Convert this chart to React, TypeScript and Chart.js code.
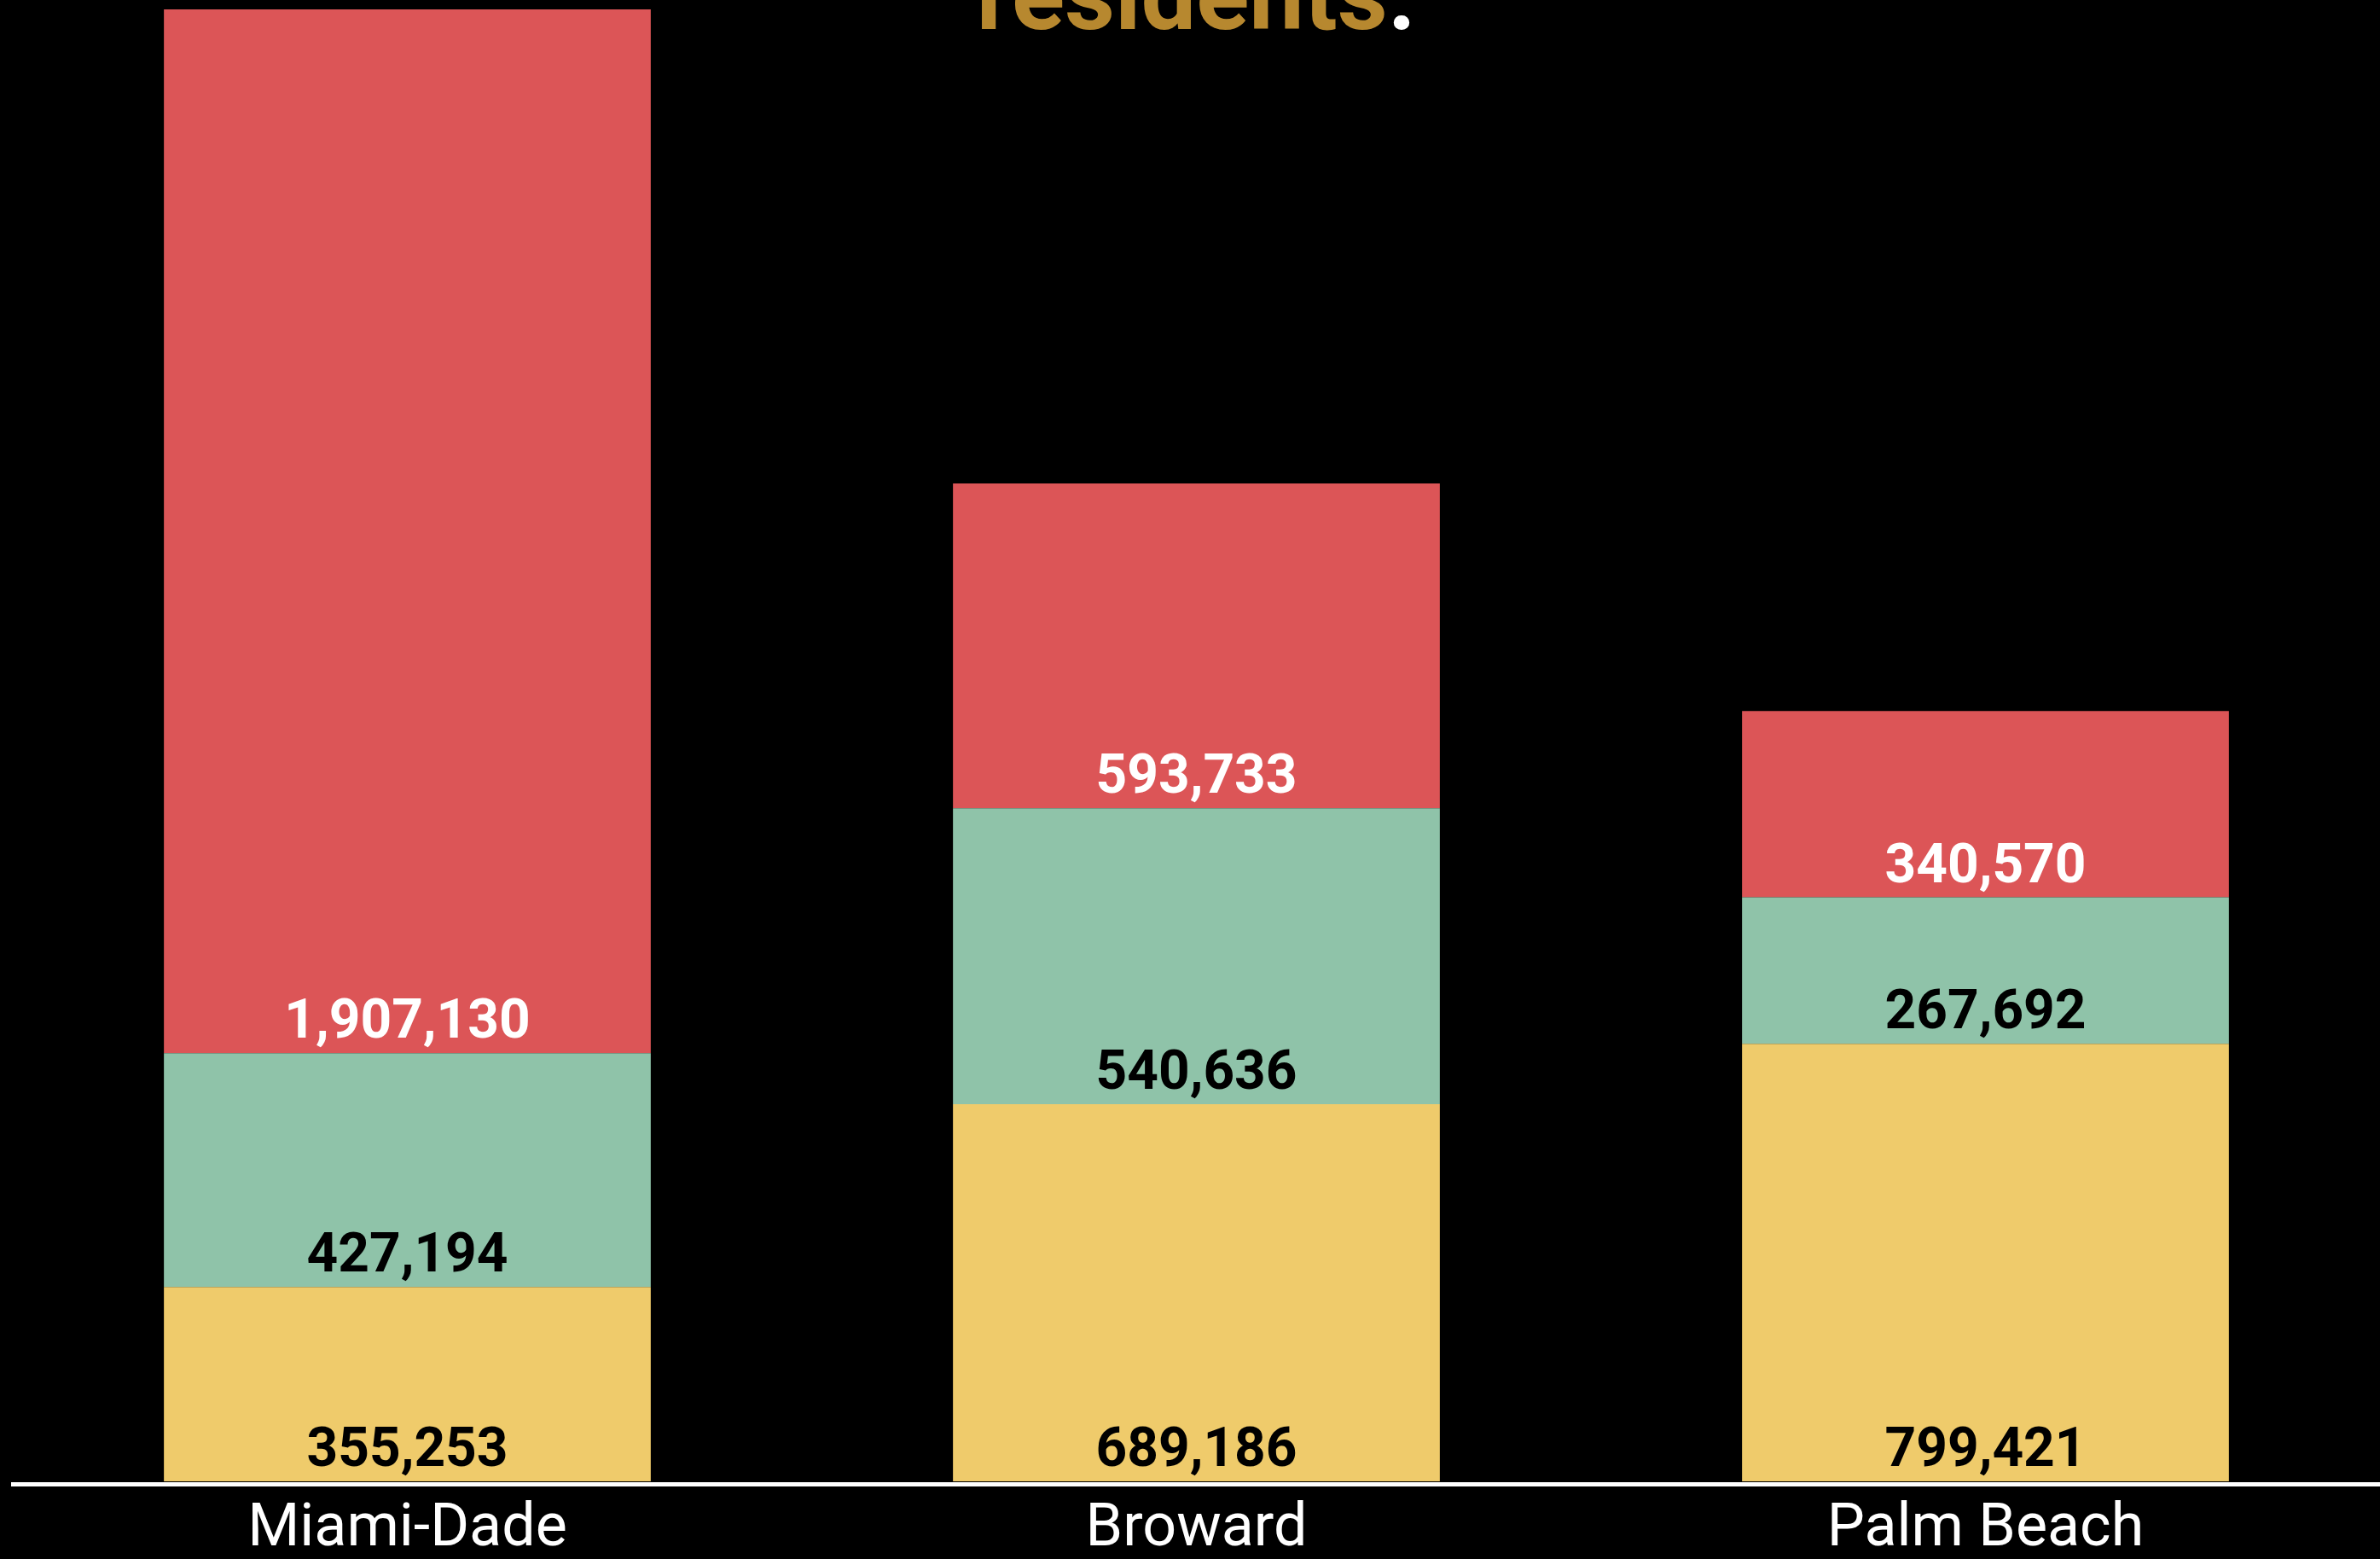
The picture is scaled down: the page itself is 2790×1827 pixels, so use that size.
import React, { useEffect, useRef } from "react";
import { Chart, registerables } from "chart.js";

Chart.register(...registerables);

const counties = ["Miami-Dade", "Broward", "Palm Beach"];
const whiteResidents = [355253, 689186, 799421];
const blackResidents = [427194, 540636, 267692];
const hispanicResidents = [1907130, 593733, 340570];

const seriesNames = ["White", "Black", "Hispanic"];
const seriesColors = ["#EFCB6B", "#8FC3A9", "#DC5557"];
const labelColors = ["#000000", "#000000", "#FFFFFF"];

const titleWord = "residents";
const titleEnd = ".";

const FONT = "Roboto, 'Noto Sans', sans-serif";

const backgroundPlugin = {
  id: "bg",
  beforeDraw(chart: any) {
    const ctx = chart.ctx;
    ctx.save();
    ctx.fillStyle = "#000000";
    ctx.fillRect(0, 0, chart.width, chart.height);
    ctx.restore();
  },
};

const axisLinePlugin = {
  id: "axisLine",
  afterDatasetsDraw(chart: any) {
    const ctx = chart.ctx;
    const y = chart.chartArea.bottom + 3.5;
    ctx.save();
    ctx.strokeStyle = "#FFFFFF";
    ctx.lineWidth = 5;
    ctx.beginPath();
    ctx.moveTo(13, y);
    ctx.lineTo(chart.width, y);
    ctx.stroke();
    ctx.restore();
  },
};

const valueLabelPlugin = {
  id: "valueLabels",
  afterDatasetsDraw(chart: any) {
    const ctx = chart.ctx;
    ctx.save();
    ctx.font = `700 64px ${FONT}`;
    ctx.textAlign = "center";
    ctx.textBaseline = "alphabetic";
    chart.data.datasets.forEach((ds: any, di: number) => {
      const meta = chart.getDatasetMeta(di);
      meta.data.forEach((bar: any, i: number) => {
        const v = ds.data[i] as number;
        ctx.fillStyle = labelColors[di];
        ctx.fillText(v.toLocaleString("en-US"), bar.x, bar.base - 18);
      });
    });
    ctx.restore();
  },
};

const titlePlugin = {
  id: "titleFragment",
  afterDraw(chart: any) {
    const ctx = chart.ctx;
    ctx.save();
    ctx.font = `700 115px ${FONT}`;
    ctx.textBaseline = "alphabetic";
    ctx.textAlign = "left";
    const w1 = ctx.measureText(titleWord).width;
    const w2 = ctx.measureText(titleEnd).width;
    const cx = (chart.chartArea.left + chart.chartArea.right) / 2;
    const x0 = cx - (w1 + w2) / 2;
    ctx.fillStyle = "#B7882F";
    ctx.fillText(titleWord, x0, 34);
    ctx.fillStyle = "#FFFFFF";
    ctx.fillText(titleEnd, x0 + w1, 34);
    ctx.restore();
  },
};

export default function App() {
  const ref = useRef<HTMLCanvasElement | null>(null);

  useEffect(() => {
    document.body.style.margin = "0";
    document.body.style.background = "#000000";
    document.body.style.overflow = "hidden";
    const canvas = ref.current;
    if (!canvas) return;
    const seriesData = [whiteResidents, blackResidents, hispanicResidents];
    const maxTotal = Math.max(
      ...counties.map((_, i) => seriesData.reduce((s, arr) => s + arr[i], 0))
    );
    const chart = new Chart(canvas, {
      type: "bar",
      data: {
        labels: counties,
        datasets: seriesData.map((d, i) => ({
          label: seriesNames[i],
          data: d,
          backgroundColor: seriesColors[i],
          borderWidth: 0,
          barPercentage: 0.617,
          categoryPercentage: 1,
        })),
      },
      options: {
        animation: false,
        responsive: false,
        maintainAspectRatio: false,
        devicePixelRatio: 1,
        layout: { padding: { left: 15, right: 0, top: 11, bottom: -23 } },
        plugins: {
          legend: { display: false },
          tooltip: { enabled: false },
          title: { display: false },
        },
        scales: {
          x: {
            stacked: true,
            grid: { display: false, drawTicks: false },
            border: { display: false },
            ticks: {
              color: "#FFFFFF",
              font: { family: FONT, size: 70, weight: 400 as any, lineHeight: 52 / 70 },
              padding: 31,
              maxRotation: 0,
            },
          },
          y: {
            stacked: true,
            display: false,
            min: 0,
            max: maxTotal,
          },
        },
      },
      plugins: [backgroundPlugin, axisLinePlugin, valueLabelPlugin, titlePlugin],
    });
    return () => chart.destroy();
  }, []);

  return (
    <div style={{ position: "fixed", left: 0, top: 0, width: 2790, height: 1827, background: "#000" }}>
      <canvas ref={ref} width={2790} height={1827} style={{ width: 2790, height: 1827, display: "block" }} />
    </div>
  );
}
